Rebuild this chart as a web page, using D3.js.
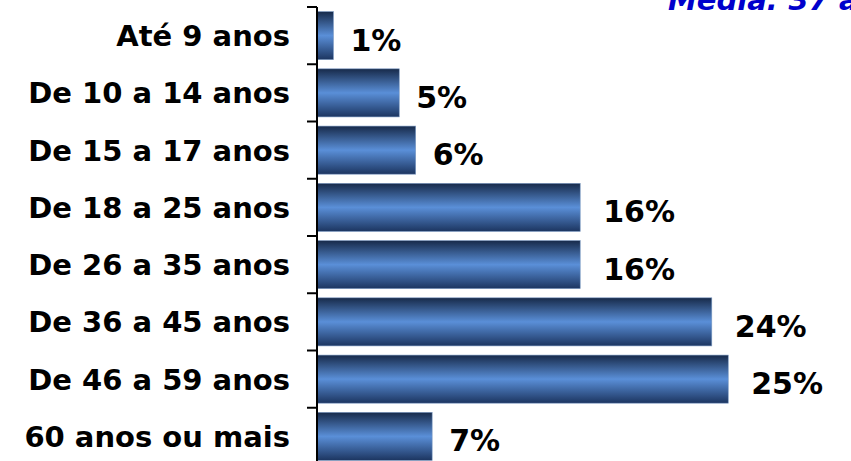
<!DOCTYPE html>
<html>
<head>
<meta charset="utf-8">
<script src="https://cdn.jsdelivr.net/npm/d3@7"></script>
<style>
  body { margin: 0; background: #fff; }
  text { font-family: 'DejaVu Sans', Verdana, sans-serif; font-weight: bold; }
</style>
</head>
<body>
<div id="chart"></div>
<script>
// faixas etárias e percentuais
const categories = ['Até 9 anos', 'De 10 a 14 anos', 'De 15 a 17 anos', 'De 18 a 25 anos',
  'De 26 a 35 anos', 'De 36 a 45 anos', 'De 46 a 59 anos', '60 anos ou mais'];
const values = [1, 5, 6, 16, 16, 24, 25, 7];
const title = 'Média: 37 anos';

const config = {
  width: 851,
  height: 461,
  axisX: 317,
  top: 7,
  bottom: 465,
  labelX: 290,
  fontSize: 29,
};

const svg = d3.select('#chart').append('svg')
  .attr('width', config.width)
  .attr('height', config.height);

// gradient used by the bars: dark edges, light centre
const grad = svg.append('defs').append('linearGradient')
  .attr('id', 'barGrad')
  .attr('x1', 0).attr('y1', 0).attr('x2', 0).attr('y2', 1);
grad.selectAll('stop')
  .data([
    { o: 0, c: '#172a4a' },
    { o: 0.5, c: '#5a8fd8' },
    { o: 1, c: '#1c3560' },
  ])
  .enter().append('stop')
  .attr('offset', (d) => d.o)
  .attr('stop-color', (d) => d.c);

// scales
const x = d3.scaleLinear()
  .domain([0, 30])
  .range([config.axisX, config.axisX + 493.5]);

const y = d3.scaleBand()
  .domain(categories)
  .range([config.top, config.bottom])
  .paddingInner(0.16)
  .paddingOuter(0.08);

const data = categories.map((c, i) => ({ cat: c, val: values[i] }));

// bars
svg.selectAll('.bar')
  .data(data)
  .enter().append('rect')
  .attr('class', 'bar')
  .attr('x', x(0))
  .attr('y', (d) => y(d.cat))
  .attr('width', (d) => x(d.val) - x(0))
  .attr('height', y.bandwidth())
  .attr('fill', 'url(#barGrad)')
  .attr('stroke', '#7d9bc4')
  .attr('stroke-width', 0.6);

// axis line and ticks between categories
svg.append('line')
  .attr('x1', config.axisX).attr('x2', config.axisX)
  .attr('y1', config.top).attr('y2', config.bottom)
  .attr('stroke', '#000')
  .attr('stroke-width', 2);

svg.selectAll('.tick')
  .data(d3.range(categories.length + 1))
  .enter().append('line')
  .attr('class', 'tick')
  .attr('x1', config.axisX - 10).attr('x2', config.axisX)
  .attr('y1', (i) => config.top + i * y.step())
  .attr('y2', (i) => config.top + i * y.step())
  .attr('stroke', '#000')
  .attr('stroke-width', 2);

// category labels
svg.selectAll('.cat-label')
  .data(data)
  .enter().append('text')
  .attr('class', 'cat-label')
  .attr('x', config.labelX)
  .attr('y', (d) => y(d.cat) + y.bandwidth() / 2 + 10.5)
  .attr('text-anchor', 'end')
  .attr('font-size', config.fontSize)
  .attr('fill', '#000')
  .text((d) => d.cat);

// value labels
svg.selectAll('.val-label')
  .data(data)
  .enter().append('text')
  .attr('class', 'val-label')
  .attr('x', (d) => x(d.val) + (d.val < 10 ? 17 : 23))
  .attr('y', (d) => y(d.cat) + y.bandwidth() / 2 + 15)
  .attr('font-size', 30)
  .attr('fill', '#000')
  .text((d) => `${d.val}%`);

// title (top right, partly off the page as in the original slide)
svg.append('text')
  .attr('x', 668)
  .attr('y', 10)
  .attr('font-size', 29)
  .attr('font-style', 'italic')
  .attr('fill', '#0000cc')
  .text(title);
</script>
</body>
</html>
